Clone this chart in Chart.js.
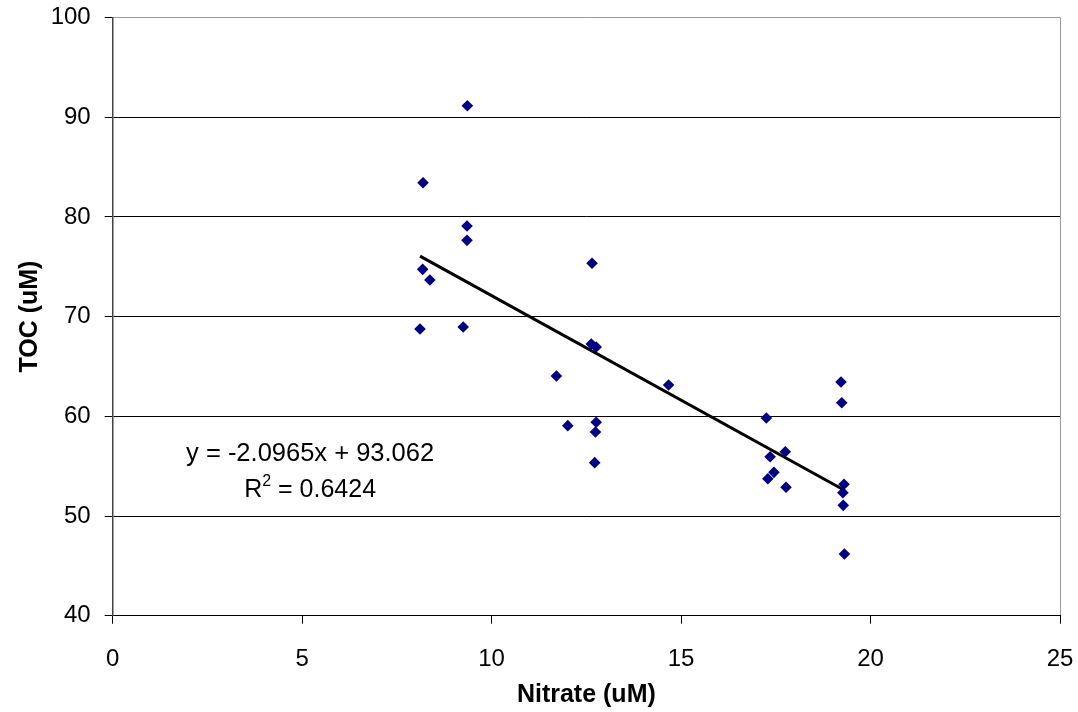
<!DOCTYPE html>
<html>
<head>
<meta charset="utf-8">
<script src="https://cdn.jsdelivr.net/npm/chart.js@4/dist/chart.umd.min.js"></script>
<style>
  html, body { margin: 0; padding: 0; background: #ffffff; }
  #wrap { width: 1078px; height: 712px; }
</style>
</head>
<body>
<div id="wrap"><canvas id="c" width="1078" height="712"></canvas></div>
<script>
// Data
const nitrate = [9.36, 8.19, 9.35, 9.35, 8.18, 8.37, 8.11, 9.25, 12.65, 12.63, 12.76, 11.71, 14.67, 12.01, 12.76, 12.74, 12.72, 17.25, 17.75, 17.35, 17.45, 17.29, 17.77, 19.22, 19.24, 19.30, 19.27, 19.28, 19.31];
const toc     = [91.15, 83.43, 79.09, 77.65, 74.74, 73.67, 68.76, 68.96, 75.35, 67.25, 66.95, 64.04, 63.14, 59.06, 59.40, 58.42, 55.35, 59.83, 56.45, 55.95, 54.38, 53.74, 52.88, 63.44, 61.36, 53.18, 52.34, 51.07, 46.19];
const xTicks = [0, 5, 10, 15, 20, 25];
const yTicks = [40, 50, 60, 70, 80, 90, 100];
const trendSlope = -2.0965;
const trendIntercept = 93.062;
const eqLine1 = 'y = -2.0965x + 93.062';
const eqR2 = '0.6424';
const xTitle = 'Nitrate (uM)';
const yTitle = 'TOC (uM)';

const points = nitrate.map((x, i) => ({ x: x, y: toc[i] }));
const xMin = Math.min(...nitrate), xMax = Math.max(...nitrate);
const trend = [xMin, xMax].map(x => ({ x: x, y: trendSlope * x + trendIntercept }));

const FONT = "'Liberation Sans', Arial, sans-serif";

const eqPlugin = {
  id: 'eq',
  afterDatasetsDraw(chart) {
    const ctx = chart.ctx;
    const xs = chart.scales.x, ys = chart.scales.y;
    const cx = xs.getPixelForValue(5.21);
    const y1 = ys.getPixelForValue(56.2);
    const y2 = ys.getPixelForValue(52.55);
    ctx.save();
    ctx.fillStyle = '#000';
    ctx.font = '25.5px ' + FONT;
    ctx.textBaseline = 'middle';
    ctx.textAlign = 'center';
    ctx.fillText(eqLine1, cx, y1);
    ctx.font = '25px ' + FONT;
    const rW = ctx.measureText('R').width;
    const rest = ' = ' + eqR2;
    const restW = ctx.measureText(rest).width;
    ctx.font = '16px ' + FONT;
    const supW = ctx.measureText('2').width;
    const total = rW + supW + restW;
    const x0 = cx - total / 2;
    ctx.textAlign = 'left';
    ctx.font = '25px ' + FONT;
    ctx.fillText('R', x0, y2);
    ctx.font = '16px ' + FONT;
    ctx.fillText('2', x0 + rW, y2 - 9);
    ctx.font = '25px ' + FONT;
    ctx.fillText(rest, x0 + rW + supW, y2);
    ctx.restore();
  }
};

new Chart(document.getElementById('c'), {
  type: 'scatter',
  data: {
    datasets: [
      {
        label: 'TOC',
        data: points,
        pointStyle: 'rectRot',
        pointRadius: 5.8,
        pointHoverRadius: 5.8,
        backgroundColor: '#000080',
        borderColor: '#000080',
        borderWidth: 0,
        order: 1
      },
      {
        label: 'Linear',
        type: 'line',
        data: trend,
        showLine: true,
        borderColor: '#000000',
        borderWidth: 3,
        pointRadius: 0,
        fill: false,
        order: 2
      }
    ]
  },
  options: {
    responsive: false,
    animation: false,
    events: [],
    layout: { padding: { left: 0, right: 18, top: 17.5, bottom: 0 } },
    plugins: { legend: { display: false }, tooltip: { enabled: false } },
    scales: {
      x: {
        type: 'linear',
        min: xTicks[0],
        max: xTicks[xTicks.length - 1],
        afterBuildTicks: s => { s.ticks = xTicks.map(v => ({ value: v })); },
        afterFit: s => { s.height = 96.3; s.paddingLeft = 0; s.paddingRight = 0; },
        grid: {
          drawOnChartArea: true,
          color: c => (c.tick && c.tick.value === 25) ? '#9a9a9a' : 'rgba(0,0,0,0)',
          tickColor: '#000',
          tickLength: 8,
          lineWidth: 1
        },
        border: { display: true, color: '#000', width: 1 },
        ticks: { color: '#000', font: { family: FONT, size: 24 }, padding: 21, maxRotation: 0 },
        title: { display: true, text: xTitle, color: '#000', font: { family: FONT, size: 25, weight: 'bold' }, padding: { top: 0, bottom: 1.5 } }
      },
      y: {
        type: 'linear',
        min: yTicks[0],
        max: yTicks[yTicks.length - 1],
        afterBuildTicks: s => { s.ticks = yTicks.map(v => ({ value: v })); },
        afterFit: s => { s.width = 112.7; s.paddingTop = 0; s.paddingBottom = 0; },
        grid: {
          color: c => (c.tick && c.tick.value === 100) ? '#9a9a9a' : '#000',
          tickColor: '#000',
          tickLength: 8,
          lineWidth: 1
        },
        border: { display: true, color: '#444', width: 1.5 },
        ticks: { color: '#000', font: { family: FONT, size: 24 }, padding: 14 },
        title: { display: true, text: yTitle, color: '#000', font: { family: FONT, size: 25, weight: 'bold' }, padding: { top: 15, bottom: 0 } }
      }
    }
  },
  plugins: [eqPlugin]
});
</script>
</body>
</html>
